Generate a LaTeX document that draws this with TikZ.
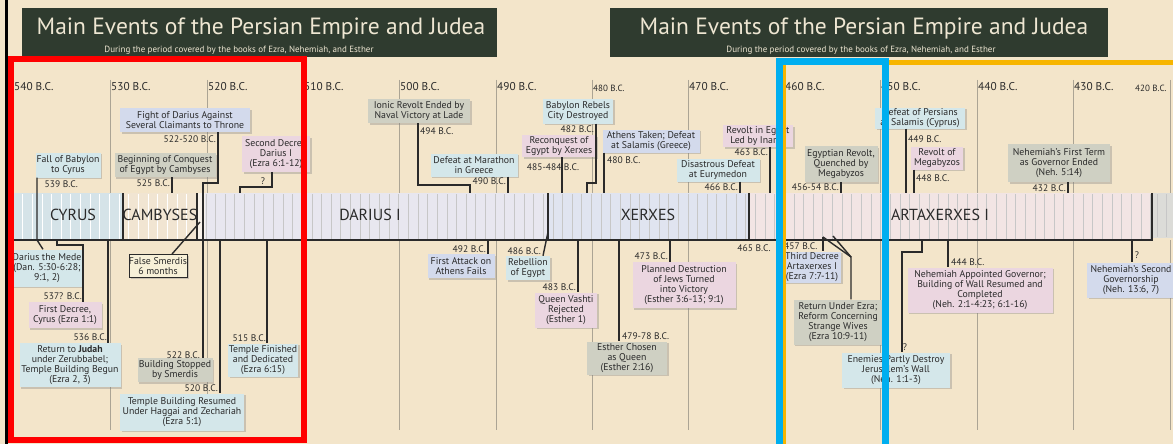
\documentclass[tikz,border=0pt]{standalone}
\usepackage{fontspec}
\setmainfont{PT Sans}
\usetikzlibrary{shadows}
\definecolor{paper}{HTML}{F3E5CA}
\definecolor{banner}{HTML}{2F3B2F}
\definecolor{bannertext}{HTML}{EEE6D2}
\definecolor{cyanfill}{HTML}{D4E7EA}
\definecolor{lavfill}{HTML}{D3DAEC}
\definecolor{greyfill}{HTML}{CFD0C3}
\definecolor{pinkfill}{HTML}{EBD6E0}
\definecolor{creamfill}{HTML}{F7F0D8}
\definecolor{cyrusband}{HTML}{D5E3E8}
\definecolor{cambband}{HTML}{F1E5D2}
\definecolor{dariusband}{HTML}{E8E7EF}
\definecolor{xerxband}{HTML}{E0E4F0}
\definecolor{artaband}{HTML}{F2E5E4}
\definecolor{endband}{HTML}{DCDCD8}
\definecolor{gridline}{HTML}{ABA494}
\definecolor{markred}{HTML}{FF0000}
\definecolor{markblue}{HTML}{00AEEF}
\definecolor{markorange}{HTML}{F7B500}
\definecolor{ink}{HTML}{2A2A2A}
\begin{document}
\begin{tikzpicture}[x=1pt, y=-1pt,
  ev/.style = {rectangle, align=center, inner sep=0pt, text=ink, font=\fontsize{9.8}{10}\selectfont,
               drop shadow={shadow xshift=1.6pt, shadow yshift=-1.6pt, opacity=0.35}},
  cyanev/.style = {ev, fill=cyanfill},
  lavev/.style = {ev, fill=lavfill},
  greyev/.style = {ev, fill=greyfill},
  pinkev/.style = {ev, fill=pinkfill},
  date/.style = {inner sep=0pt, text=ink, font=\fontsize{9.5}{9.5}\selectfont},
  decade/.style = {inner sep=0pt, anchor=west, text=ink, font=\fontsize{11.3}{11.3}\selectfont},
  reign/.style = {inner sep=0pt, text=ink, font=\fontsize{16}{16}\selectfont},
  con/.style = {line width=1.4pt, ink},
  grid/.style = {line width=0.6pt, gridline}]
\useasboundingbox (0,0) rectangle (1173,444);
\clip (0,0) rectangle (1173,444);
\fill[paper] (0,0) rectangle (1173,444);

% title banners
\fill[banner] (22,8) rectangle (497,57);
\fill[banner] (610,8) rectangle (1108,57);
\node[inner sep=0pt, text=bannertext, font=\fontsize{23.5}{23.5}\selectfont] (title1) at (261,29) {Main Events of the Persian Empire and Judea};
\node[inner sep=0pt, text=bannertext, font=\fontsize{9}{9}\selectfont] (sub1) at (239,50) {During the period covered by the books of Ezra, Nehemiah, and Esther};
\node[inner sep=0pt, text=bannertext, font=\fontsize{23.5}{23.5}\selectfont] (title2) at (864,29) {Main Events of the Persian Empire and Judea};
\node[inner sep=0pt, text=bannertext, font=\fontsize{9}{9}\selectfont] (sub2) at (861,50) {During the period covered by the books of Ezra, Nehemiah, and Esther};

% decades
\foreach \gx in {13,110,207,303,399,496,592,688,784,880,977,1073,1170} {
  \draw[grid] (\gx,80) -- (\gx,193);
  \draw[grid] (\gx,240) -- (\gx,430);
}
\foreach \yr/\gx in {540/13,530/110,520/207,510/303,500/399,490/496,470/688,460/784,450/880,440/977,430/1073}
  \node[decade] (dec\yr) at (\gx+1,87) {\yr\ B.C.};
\node[decade, font=\fontsize{9}{9}\selectfont] (dec480) at (593,88) {480 B.C.};
\node[decade, font=\fontsize{9}{9}\selectfont] (dec420) at (1135,88) {420 B.C.};

% reign band
\fill[cyrusband] (13,193) rectangle (123,240);
\fill[cambband] (123,193) rectangle (197,240);
\fill[cambband!50!white] (197,193) rectangle (205,240);
\fill[dariusband] (205,193) rectangle (548,240);
\fill[xerxband] (548,193) rectangle (749,240);
\fill[artaband] (749,193) rectangle (1152,240);
\fill[endband] (1152,193) rectangle (1173,238);
\foreach \i in {0,...,19}
  \draw[white, line width=0.7pt] ({13+9.64*\i},194) -- ++(0,45);
\foreach \i in {20,...,118}
  \draw[black!22, line width=0.6pt] ({13+9.64*\i},194) -- ++(0,45);
\foreach \i in {0,1}
  \draw[black!22, line width=0.6pt] ({1157+9*\i},194) -- ++(0,43);
\draw[line width=1.2pt, ink] (123,193) -- (123,240) (197,193) -- (197,240) (548,193) -- (548,240) (749,193) -- (749,240);
\draw[line width=1.3pt, ink] (13,240) -- (1152,240) -- (1152,193);
\node[reign] (cyrus) at (73,215) {CYRUS};
\node[reign] (cambyses) at (160,215) {CAMBYSES};
\node[reign] (darius) at (370,215) {DARIUS I};
\node[reign] (xerxes) at (648,215) {XERXES};
\node[reign] (artaxerxes) at (940,215) {ARTAXERXES I};

% events above the band
\node[cyanev, minimum width=65pt, minimum height=25pt] (fall) at (68,165) {Fall of Babylon\\to Cyrus};
\node[greyev, minimum width=101pt, minimum height=24pt] (conquest) at (165,165) {Beginning of Conquest\\of Egypt by Cambyses};
\node[lavev, minimum width=130pt, minimum height=24pt] (claimants) at (185,120) {Fight of Darius Against\\Several Claimants to Throne};
\node[pinkev, minimum width=68pt, minimum height=36pt] (decree2) at (276,154) {Second Decree\\Darius I\\(Ezra 6:1-12)};
\node[greyev, minimum width=102pt, minimum height=24pt] (lade) at (419,111) {Ionic Revolt Ended by\\Naval Victory at Lade};
\node[cyanev, minimum width=87pt, minimum height=23pt] (marathon) at (474,165) {Defeat at Marathon\\in Greece};
\node[cyanev, minimum width=70pt, minimum height=25pt] (babylon) at (578,111) {Babylon Rebels\\City Destroyed};
\node[pinkev, minimum width=74pt, minimum height=22pt] (reconquest) at (559,146) {Reconquest of\\Egypt by Xerxes};
\node[lavev, minimum width=97pt, minimum height=23pt] (athens) at (651,141) {Athens Taken; Defeat\\at Salamis (Greece)};
\node[pinkev, minimum width=70pt, minimum height=22pt] (inaros) at (758,136) {Revolt in Egypt\\Led by Inaros};
\node[cyanev, minimum width=83pt, minimum height=23pt] (eurymedon) at (718,170) {Disastrous Defeat\\at Eurymedon};
\node[greyev, minimum width=73pt, minimum height=36pt] (egyptrev) at (841,164) {Egyptian Revolt,\\Quenched by\\Megabyzos};
\node[cyanev, minimum width=90pt, minimum height=21pt] (cyprus) at (920,118) {Defeat of Persians\\at Salamis (Cyprus)};
\node[pinkev, minimum width=52pt, minimum height=23pt] (megabyzos) at (937,158) {Revolt of\\Megabyzos};
\node[greyev, minimum width=102pt, minimum height=38pt] (firstterm) at (1059,163) {Nehemiah's First Term\\as Governor Ended\\(Neh. 5:14)};

% events below the band
\node[cyanev, minimum width=70pt, minimum height=37pt] (mede) at (47,268) {Darius the Mede\\(Dan. 5:30-6:28;\\9:1, 2)};
\node[pinkev, minimum width=73pt, minimum height=26pt] (decree1) at (65,315) {First Decree,\\Cyrus (Ezra 1:1)};
\node[cyanev, minimum width=101pt, minimum height=44pt] (judah) at (70,365) {Return to \textbf{Judah}\\under Zerubbabel;\\Temple Building Begun\\(Ezra 2, 3)};
\node[ev, fill=creamfill, draw=ink, line width=0.9pt, minimum width=56pt, minimum height=23pt] (smerdis) at (158,266) {False Smerdis\\6 months};
\node[greyev, minimum width=75pt, minimum height=24pt] (stopped) at (175,370) {Building Stopped\\by Smerdis};
\node[cyanev, minimum width=124pt, minimum height=37pt] (resumed) at (182,412) {Temple Building Resumed\\Under Haggai and Zechariah\\(Ezra 5:1)};
\node[cyanev, minimum width=70pt, minimum height=33pt] (finished) at (263,360) {Temple Finished\\and Dedicated\\(Ezra 6:15)};
\node[lavev, minimum width=67pt, minimum height=24pt] (athfail) at (461,266) {First Attack on\\Athens Fails};
\node[cyanev, minimum width=44pt, minimum height=24pt] (egyreb) at (528,268) {Rebellion\\of Egypt};
\node[pinkev, minimum width=62pt, minimum height=35pt] (vashti) at (566,310) {Queen Vashti\\Rejected\\(Esther 1)};
\node[greyev, minimum width=80pt, minimum height=33pt] (queen) at (627,358) {Esther Chosen\\as Queen\\(Esther 2:16)};
\node[pinkev, minimum width=103pt, minimum height=46pt] (jews) at (684,285) {Planned Destruction\\of Jews Turned\\into Victory\\(Esther 3:6-13; 9:1)};
\node[lavev, minimum width=58pt, minimum height=31pt] (decree3) at (812,267) {Third Decree\\Artaxerxes I\\(Ezra 7:7-11)};
\node[greyev, minimum width=89pt, minimum height=45pt] (ezra) at (838,322) {Return Under Ezra;\\Reform Concerning\\Strange Wives\\(Ezra 10:9-11)};
\node[cyanev, minimum width=108pt, minimum height=35pt] (walls) at (896,370) {Enemies Partly Destroy\\Jerusalem's Wall\\(Neh. 1:1-3)};
\node[pinkev, minimum width=145pt, minimum height=45pt] (governor) at (980,290) {Nehemiah Appointed Governor;\\Building of Wall Resumed and\\Completed\\(Neh. 2:1-4:23; 6:1-16)};
\node[lavev, minimum width=88pt, minimum height=35pt] (secondterm) at (1131,280) {Nehemiah's Second\\Governorship\\(Neh. 13:6, 7)};

% dates
\node[date, anchor=east] (y539) at (78,184) {539 B.C.};
\node[date, anchor=east] (y525) at (170,183) {525 B.C.};
\node[date, anchor=east] (y522a) at (216,139) {522-520 B.C.};
\node[date] (y519) at (263,181) {?};
\node[date, anchor=west] (y494) at (420,131) {494 B.C.};
\node[date, anchor=east] (y490) at (506,181) {490 B.C.};
\node[date, anchor=east] (y482) at (594,129) {482 B.C.};
\node[date] (y485) at (553,167) {485-484 B.C.};
\node[date, anchor=west] (y480) at (607,160) {480 B.C.};
\node[date, anchor=east] (y463) at (768,152) {463 B.C.};
\node[date, anchor=east] (y466) at (738,187) {466 B.C.};
\node[date, anchor=east] (y456) at (839,187) {456-54 B.C.};
\node[date, anchor=west] (y449) at (908,139) {449 B.C.};
\node[date, anchor=west] (y448) at (916,178) {448 B.C.};
\node[date, anchor=east] (y432) at (1066,188) {432 B.C.};
\node[date, anchor=east] (y537) at (82,296) {537? B.C.};
\node[date, anchor=east] (y536) at (107,337) {536 B.C.};
\node[date, anchor=east] (y522) at (200,355) {522 B.C.};
\node[date, anchor=east] (y520) at (218,388) {520 B.C.};
\node[date, anchor=east] (y515) at (266,338) {515 B.C.};
\node[date, anchor=east] (y492) at (486,249) {492 B.C.};
\node[date, anchor=east] (y486) at (541,251) {486 B.C.};
\node[date, anchor=east] (y483) at (576,287) {483 B.C.};
\node[date, anchor=west] (y479) at (622,336) {479-78 B.C.};
\node[date, anchor=east] (y473) at (668,256) {473 B.C.};
\node[date] (y465) at (754,248) {465 B.C.};
\node[date, anchor=west] (y457) at (784,246) {457 B.C.};
\node[date] (y446) at (905,347) {?};
\node[date, anchor=west] (y444) at (951,262) {444 B.C.};
\node[date] (y433) at (1137,255) {?};

% band ends of the connectors
\coordinate (k539) at (37,240);
\coordinate (k537) at (57,240);
\coordinate (j537) at (83,245);
\coordinate (k536) at (108,240);
\coordinate (k525) at (172,193);
\coordinate (j522) at (218,183);
\coordinate (k522) at (203,193);
\coordinate (k522s) at (200,222);
\coordinate (k520) at (220,240);
\coordinate (j519) at (272,187);
\coordinate (k519) at (240,193);
\coordinate (k515) at (267,240);
\coordinate (j494) at (418,185);
\coordinate (k494) at (470,193);
\coordinate (k492) at (488,240);
\coordinate (k490) at (508,193);
\coordinate (k486) at (548,232);
\coordinate (k485) at (562,193);
\coordinate (k483) at (578,240);
\coordinate (j482) at (596,183);
\coordinate (k482) at (587,193);
\coordinate (k480) at (604,193);
\coordinate (k479) at (619,240);
\coordinate (k473) at (670,240);
\coordinate (k466) at (740,193);
\coordinate (k463) at (770,193);
\coordinate (k457) at (823,237);
\coordinate (k458) at (833,236);
\coordinate (j458) at (851,257);
\coordinate (k456) at (841,193);
\coordinate (k449) at (906,193);
\coordinate (k448) at (914,193);
\coordinate (k446) at (922,240);
\coordinate (j446) at (902,252);
\coordinate (k444) at (948,240);
\coordinate (k433) at (1132,240);
\coordinate (k432) at (1068,193);

\draw[con] (k539 |- fall.south) -- (k539) -- ([xshift=-4pt]mede.north);
\draw[con] (k537) -- (k537 |- j537) -- (j537) -- (j537 |- decree1.north);
\draw[con] (k536) -- (k536 |- judah.north);
\draw[con] (k525 |- conquest.south) -- (k525);
\draw[con] (j522 |- claimants.south) -- (j522) -- (j522 -| k522) -- (k522) -- (k522 |- stopped.north);
\draw[con] (k522s) -- ([xshift=14pt]smerdis.north);
\draw[con] (k520) -- (k520 |- resumed.north);
\draw[con] (j519 |- decree2.south) -- (j519) -- (j519 -| k519) -- (k519);
\draw[con] (k515) -- (k515 |- finished.north);
\draw[con] (j494 |- lade.south) -- (j494) -- (j494 -| k494) -- (k494);
\draw[con] (k492) -- (k492 |- athfail.north);
\draw[con] (k490 |- marathon.south) -- (k490);
\draw[con] (k486) -- ([xshift=15pt]egyreb.north);
\draw[con] (k485 |- reconquest.south) -- (k485);
\draw[con] (k483) -- (k483 |- vashti.north);
\draw[con] (j482 |- babylon.south) -- (j482) -- (j482 -| k482) -- (k482);
\draw[con] (k480 |- athens.south) -- (k480);
\draw[con] (k479) -- (k479 |- queen.north);
\draw[con] (k473) -- (k473 |- jews.north);
\draw[con] (k466 |- eurymedon.south) -- (k466);
\draw[con] (k463 |- inaros.south) -- (k463);
\draw[con] (k457) -- (k457 |- decree3.north);
\draw[con] (k457) -- (j458) -- (j458 |- ezra.north);
\draw[con] (k458) -- (j458);
\draw[con] (k456 |- egyptrev.south) -- (k456);
\draw[con] (k449 |- cyprus.south) -- (k449);
\draw[con] (k448 |- megabyzos.south) -- (k448);
\draw[con] (k446) -- (k446 |- j446) -- (j446) -- (j446 |- walls.north);
\draw[con] (k444) -- (k444 |- governor.north);
\draw[con] (k433) -- (k433 |- secondterm.north);
\draw[con] (k432 |- firstterm.south) -- (k432);

% marked frames
\draw[markorange, line width=5pt] (783,63) rectangle (1190,460);
\draw[markblue, line width=7pt] (779,62) rectangle (885,460);
\draw[markred, line width=6pt] (10.5,59.5) rectangle (303.5,440);
\draw[black, line width=3pt] (6.5,-5) -- (6.5,450);
\end{tikzpicture}
\end{document}
